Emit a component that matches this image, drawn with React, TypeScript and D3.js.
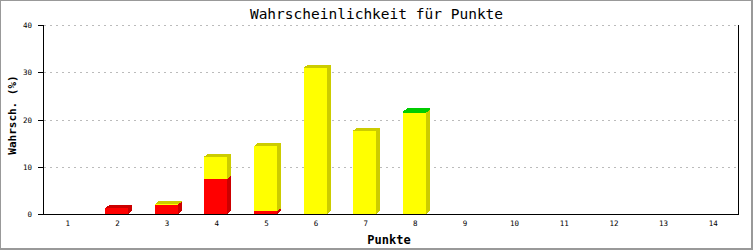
import React from 'react';
import * as d3 from 'd3';

const categories = ['1', '2', '3', '4', '5', '6', '7', '8', '9', '10', '11', '12', '13', '14'];
const redValues = [0, 1.2, 2.0, 7.4, 0.6, 0, 0, 0, 0, 0, 0, 0, 0, 0];
const yellowValues = [0, 0, 0.1, 4.7, 13.8, 31.0, 17.6, 21.4, 0, 0, 0, 0, 0, 0];
const greenValues = [0, 0, 0, 0, 0, 0, 0, 0.3, 0, 0, 0, 0, 0, 0];
const yTicks = [0, 10, 20, 30, 40];
const titleText = 'Wahrscheinlichkeit für Punkte';
const xTitle = 'Punkte';
const yTitle = 'Wahrsch. (%)';

const seriesKeys = ['red', 'yellow', 'green'];
const frontColors: Record<string, string> = { red: '#ff0000', yellow: '#ffff00', green: '#00cc00' };
const darkColors: Record<string, string> = { red: '#cc0000', yellow: '#cccc00', green: '#00cc00' };

const W = 753;
const H = 250;
const plotLeft = 43;
const plotRight = 738;
const plotTop = 25;
const plotBottom = 214;
const barW = 23;
const dx = 4;
const dy = 3;
const mono = '"DejaVu Sans Mono", "Liberation Mono", monospace';

export default function App() {
  const rows = categories.map((c, i) => ({
    cat: c,
    red: redValues[i],
    yellow: yellowValues[i],
    green: greenValues[i],
  }));
  const stacked = d3.stack<any>().keys(seriesKeys)(rows);
  const x = d3.scaleBand().domain(categories).range([plotLeft, plotRight]);
  const y = d3.scaleLinear().domain([0, 40]).range([plotBottom, plotTop]);
  const cx = (c: string) => (x(c) as number) + x.bandwidth() / 2;

  const segs: any[] = [];
  stacked.forEach((s) => {
    s.forEach((d: any, i: number) => {
      if (d[1] - d[0] <= 0) return;
      segs.push({ key: s.key, cat: categories[i], v0: d[0], v1: d[1] });
    });
  });
  // draw by category, bottom to top
  segs.sort((a, b) => categories.indexOf(a.cat) - categories.indexOf(b.cat) || a.v0 - b.v0);

  return (
    <div style={{ position: 'fixed', left: 0, top: 0 }}>
      <svg width={W} height={H} style={{ display: 'block' }}>
        <rect x={0} y={0} width={W} height={H} fill="#ffffff" />
        {/* frame */}
        <rect x={0} y={0} width={1} height={H} fill="#999999" />
        <rect x={0} y={0} width={W} height={1} fill="#999999" />
        <rect x={W - 2} y={0} width={2} height={H} fill="#999999" />
        <rect x={0} y={H - 2} width={W} height={2} fill="#999999" />

        <text x={376.5} y={19} textAnchor="middle" fontFamily={mono} fontSize={14.5} fill="#000">
          {titleText}
        </text>

        {/* grid */}
        {yTicks.filter((t) => t > 0).map((t) => (
          <line key={'g' + t} x1={plotLeft + 1} x2={plotRight - 1} y1={Math.round(y(t)) + 0.5} y2={Math.round(y(t)) + 0.5}
            stroke="#bbbbbb" strokeDasharray="2,4" />
        ))}

        {/* bars */}
        {segs.map((s, i) => {
          const x0 = Math.round(cx(s.cat) - 12.5);
          const x1 = x0 + barW;
          const yb = y(s.v0);
          const yt = y(s.v1);
          const top = `${x0},${yt} ${x0 + dx},${yt - dy} ${x1 + dx},${yt - dy} ${x1},${yt}`;
          const side = `${x1},${yb} ${x1 + dx},${yb - dy} ${x1 + dx},${yt - dy} ${x1},${yt}`;
          return (
            <g key={i} shapeRendering="crispEdges">
              <polygon points={side} fill={darkColors[s.key]} />
              <polygon points={top} fill={darkColors[s.key]} />
              <rect x={x0} y={yt} width={barW} height={yb - yt} fill={frontColors[s.key]} />
            </g>
          );
        })}

        {/* axes */}
        <g shapeRendering="crispEdges">
          <line x1={plotLeft + 0.5} x2={plotLeft + 0.5} y1={plotTop} y2={plotBottom + 1} stroke="#000" />
          <line x1={plotRight + 0.5} x2={plotRight + 0.5} y1={plotTop} y2={plotBottom + 1} stroke="#000" />
          <line x1={plotLeft} x2={plotRight + 1} y1={plotBottom + 0.5} y2={plotBottom + 0.5} stroke="#000" />
          {yTicks.map((t) => (
            <line key={'t' + t} x1={plotLeft - 5} x2={plotLeft} y1={Math.round(y(t)) + 0.5} y2={Math.round(y(t)) + 0.5} stroke="#000" />
          ))}
        </g>
        {yTicks.map((t) => (
          <text key={'yl' + t} x={32} y={y(t) + 3} textAnchor="end" fontFamily={mono} fontSize={7.5} fill="#000">
            {t}
          </text>
        ))}
        {categories.map((c) => (
          <text key={'xl' + c} x={cx(c)} y={226} textAnchor="middle" fontFamily={mono} fontSize={7.5} fill="#000">
            {c}
          </text>
        ))}

        <text x={389} y={244} textAnchor="middle" fontFamily={mono} fontSize={12} fontWeight="bold" fill="#000">
          {xTitle}
        </text>
        <text transform={`translate(16,115) rotate(-90)`} textAnchor="middle" fontFamily={mono} fontSize={11} fontWeight="bold" fill="#000">
          {yTitle}
        </text>
      </svg>
    </div>
  );
}
